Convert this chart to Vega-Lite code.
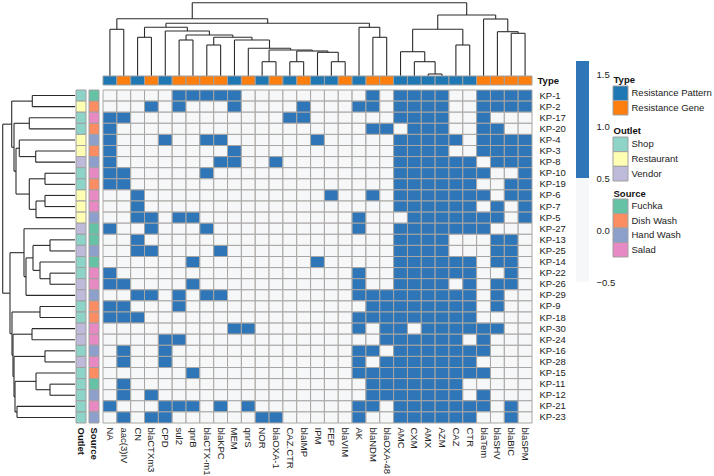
{
"$schema":"https://vega.github.io/schema/vega-lite/v6.json",
"width":714,"height":476,"padding":0,"autosize":{"type":"none"},
"config":{"view":{"stroke":null},"font":"Liberation Sans","axis":{"grid":false,"ticks":false,"domain":false,"labelFont":"Liberation Sans","labelFontSize":9.5,"labelColor":"#222","titleFont":"Liberation Sans"}},
"datasets":{
"genes":[{"g":"NA","t":"Resistance Pattern"},{"g":"aac(3)IV","t":"Resistance Gene"},{"g":"CN","t":"Resistance Pattern"},{"g":"blaCTXm3","t":"Resistance Gene"},{"g":"CPD","t":"Resistance Pattern"},{"g":"sul2","t":"Resistance Gene"},{"g":"qnrB","t":"Resistance Gene"},{"g":"blaCTX-m1","t":"Resistance Gene"},{"g":"blaKPC","t":"Resistance Gene"},{"g":"MEM","t":"Resistance Pattern"},{"g":"qnrS","t":"Resistance Gene"},{"g":"NOR","t":"Resistance Pattern"},{"g":"blaOXA-1","t":"Resistance Gene"},{"g":"CAZ.CTR","t":"Resistance Pattern"},{"g":"blaIMP","t":"Resistance Gene"},{"g":"IPM","t":"Resistance Pattern"},{"g":"FEP","t":"Resistance Pattern"},{"g":"blaVIM","t":"Resistance Gene"},{"g":"AK","t":"Resistance Pattern"},{"g":"blaNDM","t":"Resistance Gene"},{"g":"blaOXA-48","t":"Resistance Gene"},{"g":"AMC","t":"Resistance Pattern"},{"g":"CXM","t":"Resistance Pattern"},{"g":"AMX","t":"Resistance Pattern"},{"g":"AZM","t":"Resistance Pattern"},{"g":"CAZ","t":"Resistance Pattern"},{"g":"CTR","t":"Resistance Pattern"},{"g":"blaTem","t":"Resistance Gene"},{"g":"blaSHV","t":"Resistance Gene"},{"g":"blaBIC","t":"Resistance Gene"},{"g":"blaSPM","t":"Resistance Gene"}],
"iso":[{"i":"KP-1","o":"Shop","s":"Fuchka"},{"i":"KP-2","o":"Restaurant","s":"Dish Wash"},{"i":"KP-17","o":"Shop","s":"Salad"},{"i":"KP-20","o":"Shop","s":"Dish Wash"},{"i":"KP-4","o":"Restaurant","s":"Hand Wash"},{"i":"KP-3","o":"Restaurant","s":"Dish Wash"},{"i":"KP-8","o":"Vendor","s":"Hand Wash"},{"i":"KP-10","o":"Shop","s":"Salad"},{"i":"KP-19","o":"Shop","s":"Dish Wash"},{"i":"KP-6","o":"Restaurant","s":"Salad"},{"i":"KP-7","o":"Restaurant","s":"Salad"},{"i":"KP-5","o":"Restaurant","s":"Hand Wash"},{"i":"KP-27","o":"Vendor","s":"Fuchka"},{"i":"KP-13","o":"Shop","s":"Fuchka"},{"i":"KP-25","o":"Vendor","s":"Hand Wash"},{"i":"KP-14","o":"Shop","s":"Fuchka"},{"i":"KP-22","o":"Shop","s":"Salad"},{"i":"KP-26","o":"Vendor","s":"Salad"},{"i":"KP-29","o":"Vendor","s":"Hand Wash"},{"i":"KP-9","o":"Shop","s":"Dish Wash"},{"i":"KP-18","o":"Shop","s":"Dish Wash"},{"i":"KP-30","o":"Vendor","s":"Salad"},{"i":"KP-24","o":"Vendor","s":"Salad"},{"i":"KP-16","o":"Shop","s":"Hand Wash"},{"i":"KP-28","o":"Vendor","s":"Salad"},{"i":"KP-15","o":"Shop","s":"Dish Wash"},{"i":"KP-11","o":"Shop","s":"Fuchka"},{"i":"KP-12","o":"Shop","s":"Hand Wash"},{"i":"KP-21","o":"Shop","s":"Salad"},{"i":"KP-23","o":"Shop","s":"Hand Wash"}],
"cbar":[{"lo":-0.5,"hi":0.5,"v":0},{"lo":0.5,"hi":1.625,"v":1}],
"topd":[{"a":0.5,"b":1.5,"h":46.7,"ha":0,"hb":0},{"a":2.5,"b":3.5,"h":38.7,"ha":0,"hb":0},{"a":5.5,"b":6.5,"h":36,"ha":0,"hb":0},{"a":7.5,"b":8.5,"h":31,"ha":0,"hb":0},{"a":11.5,"b":12.5,"h":14.3,"ha":0,"hb":0},{"a":13.5,"b":14.5,"h":14.3,"ha":0,"hb":0},{"a":16.5,"b":17.5,"h":14.3,"ha":0,"hb":0},{"a":15.5,"b":17,"h":23.7,"ha":0,"hb":14.3},{"a":14,"b":16.25,"h":25,"ha":14.3,"hb":23.7},{"a":12,"b":15.125,"h":26,"ha":14.3,"hb":25},{"a":10.5,"b":13.5625,"h":27.7,"ha":0,"hb":26},{"a":9.5,"b":12.031,"h":36,"ha":0,"hb":27.7},{"a":8,"b":10.766,"h":38.7,"ha":31,"hb":36},{"a":6,"b":9.383,"h":41,"ha":36,"hb":38.7},{"a":4.5,"b":7.691,"h":45,"ha":0,"hb":41},{"a":3,"b":6.096,"h":48.7,"ha":38.7,"hb":45},{"a":19.5,"b":20.5,"h":38.7,"ha":0,"hb":0},{"a":18.5,"b":20,"h":48.7,"ha":0,"hb":38.7},{"a":4.548,"b":19.25,"h":52.7,"ha":48.7,"hb":48.7},{"a":1,"b":11.899,"h":57.3,"ha":46.7,"hb":52.7},{"a":23.5,"b":24.5,"h":2,"ha":0,"hb":0},{"a":22.5,"b":24,"h":14.3,"ha":0,"hb":2},{"a":21.5,"b":23.25,"h":24.3,"ha":0,"hb":14.3},{"a":25.5,"b":26.5,"h":31,"ha":0,"hb":0},{"a":22.375,"b":26,"h":46.7,"ha":24.3,"hb":31},{"a":29.5,"b":30.5,"h":42.7,"ha":0,"hb":0},{"a":28.5,"b":30,"h":44.3,"ha":0,"hb":42.7},{"a":27.5,"b":29.25,"h":57,"ha":0,"hb":44.3},{"a":24.188,"b":28.375,"h":61,"ha":46.7,"hb":57},{"a":6.45,"b":26.281,"h":73.3,"ha":57.3,"hb":61}],
"leftd":[{"a":0.5,"b":1.5,"h":42.7,"ha":0,"hb":0},{"a":2.5,"b":3.5,"h":45.7,"ha":0,"hb":0},{"a":5.5,"b":6.5,"h":39.3,"ha":0,"hb":0},{"a":4.5,"b":6,"h":55.7,"ha":0,"hb":39.3},{"a":7.5,"b":8.5,"h":30,"ha":0,"hb":0},{"a":9.5,"b":10.5,"h":30,"ha":0,"hb":0},{"a":10,"b":11.5,"h":39,"ha":30,"hb":0},{"a":8,"b":10.75,"h":45.7,"ha":30,"hb":39},{"a":5.25,"b":9.375,"h":59,"ha":55.7,"hb":45.7},{"a":3,"b":7.3125,"h":61,"ha":45.7,"hb":59},{"a":1,"b":5.156,"h":63.3,"ha":42.7,"hb":61},{"a":13.5,"b":14.5,"h":25,"ha":0,"hb":0},{"a":16.5,"b":17.5,"h":25,"ha":0,"hb":0},{"a":15.5,"b":17,"h":35,"ha":0,"hb":25},{"a":14,"b":16.25,"h":42,"ha":25,"hb":35},{"a":15.125,"b":18.5,"h":49,"ha":42,"hb":0},{"a":12.5,"b":16.8125,"h":51,"ha":0,"hb":49},{"a":19.5,"b":20.5,"h":35,"ha":0,"hb":0},{"a":21.5,"b":22.5,"h":43,"ha":0,"hb":0},{"a":23.5,"b":24.5,"h":30,"ha":0,"hb":0},{"a":26.5,"b":27.5,"h":25,"ha":0,"hb":0},{"a":25.5,"b":27,"h":39,"ha":0,"hb":25},{"a":28.5,"b":29.5,"h":58,"ha":0,"hb":0},{"a":26.25,"b":29,"h":60,"ha":39,"hb":58},{"a":24,"b":27.625,"h":61,"ha":30,"hb":60},{"a":22,"b":25.8125,"h":62,"ha":43,"hb":61},{"a":20,"b":23.906,"h":63,"ha":35,"hb":62},{"a":14.656,"b":21.953,"h":65,"ha":51,"hb":63},{"a":3.078,"b":18.305,"h":72.3,"ha":63.3,"hb":65}],
"cells":[
{"i":"KP-1","g":"NA","v":0},{"i":"KP-1","g":"aac(3)IV","v":0},{"i":"KP-1","g":"CN","v":0},{"i":"KP-1","g":"blaCTXm3","v":0},{"i":"KP-1","g":"CPD","v":0},{"i":"KP-1","g":"sul2","v":1},{"i":"KP-1","g":"qnrB","v":1},{"i":"KP-1","g":"blaCTX-m1","v":1},{"i":"KP-1","g":"blaKPC","v":1},{"i":"KP-1","g":"MEM","v":1},{"i":"KP-1","g":"qnrS","v":0},{"i":"KP-1","g":"NOR","v":0},{"i":"KP-1","g":"blaOXA-1","v":0},{"i":"KP-1","g":"CAZ.CTR","v":0},{"i":"KP-1","g":"blaIMP","v":0},{"i":"KP-1","g":"IPM","v":0},{"i":"KP-1","g":"FEP","v":0},{"i":"KP-1","g":"blaVIM","v":0},{"i":"KP-1","g":"AK","v":0},{"i":"KP-1","g":"blaNDM","v":1},{"i":"KP-1","g":"blaOXA-48","v":0},{"i":"KP-1","g":"AMC","v":1},{"i":"KP-1","g":"CXM","v":1},{"i":"KP-1","g":"AMX","v":1},{"i":"KP-1","g":"AZM","v":1},{"i":"KP-1","g":"CAZ","v":0},{"i":"KP-1","g":"CTR","v":0},{"i":"KP-1","g":"blaTem","v":1},{"i":"KP-1","g":"blaSHV","v":1},{"i":"KP-1","g":"blaBIC","v":1},{"i":"KP-1","g":"blaSPM","v":1},
{"i":"KP-2","g":"NA","v":0},{"i":"KP-2","g":"aac(3)IV","v":0},{"i":"KP-2","g":"CN","v":0},{"i":"KP-2","g":"blaCTXm3","v":1},{"i":"KP-2","g":"CPD","v":0},{"i":"KP-2","g":"sul2","v":1},{"i":"KP-2","g":"qnrB","v":0},{"i":"KP-2","g":"blaCTX-m1","v":0},{"i":"KP-2","g":"blaKPC","v":0},{"i":"KP-2","g":"MEM","v":1},{"i":"KP-2","g":"qnrS","v":0},{"i":"KP-2","g":"NOR","v":0},{"i":"KP-2","g":"blaOXA-1","v":0},{"i":"KP-2","g":"CAZ.CTR","v":0},{"i":"KP-2","g":"blaIMP","v":1},{"i":"KP-2","g":"IPM","v":0},{"i":"KP-2","g":"FEP","v":0},{"i":"KP-2","g":"blaVIM","v":0},{"i":"KP-2","g":"AK","v":1},{"i":"KP-2","g":"blaNDM","v":1},{"i":"KP-2","g":"blaOXA-48","v":0},{"i":"KP-2","g":"AMC","v":1},{"i":"KP-2","g":"CXM","v":1},{"i":"KP-2","g":"AMX","v":1},{"i":"KP-2","g":"AZM","v":1},{"i":"KP-2","g":"CAZ","v":0},{"i":"KP-2","g":"CTR","v":0},{"i":"KP-2","g":"blaTem","v":1},{"i":"KP-2","g":"blaSHV","v":1},{"i":"KP-2","g":"blaBIC","v":1},{"i":"KP-2","g":"blaSPM","v":1},
{"i":"KP-17","g":"NA","v":1},{"i":"KP-17","g":"aac(3)IV","v":1},{"i":"KP-17","g":"CN","v":0},{"i":"KP-17","g":"blaCTXm3","v":0},{"i":"KP-17","g":"CPD","v":0},{"i":"KP-17","g":"sul2","v":0},{"i":"KP-17","g":"qnrB","v":0},{"i":"KP-17","g":"blaCTX-m1","v":0},{"i":"KP-17","g":"blaKPC","v":0},{"i":"KP-17","g":"MEM","v":0},{"i":"KP-17","g":"qnrS","v":0},{"i":"KP-17","g":"NOR","v":0},{"i":"KP-17","g":"blaOXA-1","v":0},{"i":"KP-17","g":"CAZ.CTR","v":1},{"i":"KP-17","g":"blaIMP","v":1},{"i":"KP-17","g":"IPM","v":0},{"i":"KP-17","g":"FEP","v":0},{"i":"KP-17","g":"blaVIM","v":0},{"i":"KP-17","g":"AK","v":0},{"i":"KP-17","g":"blaNDM","v":0},{"i":"KP-17","g":"blaOXA-48","v":0},{"i":"KP-17","g":"AMC","v":1},{"i":"KP-17","g":"CXM","v":1},{"i":"KP-17","g":"AMX","v":1},{"i":"KP-17","g":"AZM","v":1},{"i":"KP-17","g":"CAZ","v":0},{"i":"KP-17","g":"CTR","v":0},{"i":"KP-17","g":"blaTem","v":1},{"i":"KP-17","g":"blaSHV","v":0},{"i":"KP-17","g":"blaBIC","v":0},{"i":"KP-17","g":"blaSPM","v":0},
{"i":"KP-20","g":"NA","v":1},{"i":"KP-20","g":"aac(3)IV","v":0},{"i":"KP-20","g":"CN","v":0},{"i":"KP-20","g":"blaCTXm3","v":0},{"i":"KP-20","g":"CPD","v":0},{"i":"KP-20","g":"sul2","v":0},{"i":"KP-20","g":"qnrB","v":0},{"i":"KP-20","g":"blaCTX-m1","v":0},{"i":"KP-20","g":"blaKPC","v":0},{"i":"KP-20","g":"MEM","v":0},{"i":"KP-20","g":"qnrS","v":0},{"i":"KP-20","g":"NOR","v":0},{"i":"KP-20","g":"blaOXA-1","v":0},{"i":"KP-20","g":"CAZ.CTR","v":0},{"i":"KP-20","g":"blaIMP","v":0},{"i":"KP-20","g":"IPM","v":0},{"i":"KP-20","g":"FEP","v":0},{"i":"KP-20","g":"blaVIM","v":0},{"i":"KP-20","g":"AK","v":0},{"i":"KP-20","g":"blaNDM","v":1},{"i":"KP-20","g":"blaOXA-48","v":1},{"i":"KP-20","g":"AMC","v":0},{"i":"KP-20","g":"CXM","v":1},{"i":"KP-20","g":"AMX","v":1},{"i":"KP-20","g":"AZM","v":1},{"i":"KP-20","g":"CAZ","v":0},{"i":"KP-20","g":"CTR","v":0},{"i":"KP-20","g":"blaTem","v":1},{"i":"KP-20","g":"blaSHV","v":1},{"i":"KP-20","g":"blaBIC","v":0},{"i":"KP-20","g":"blaSPM","v":0},
{"i":"KP-4","g":"NA","v":1},{"i":"KP-4","g":"aac(3)IV","v":0},{"i":"KP-4","g":"CN","v":0},{"i":"KP-4","g":"blaCTXm3","v":0},{"i":"KP-4","g":"CPD","v":1},{"i":"KP-4","g":"sul2","v":0},{"i":"KP-4","g":"qnrB","v":0},{"i":"KP-4","g":"blaCTX-m1","v":1},{"i":"KP-4","g":"blaKPC","v":1},{"i":"KP-4","g":"MEM","v":0},{"i":"KP-4","g":"qnrS","v":0},{"i":"KP-4","g":"NOR","v":0},{"i":"KP-4","g":"blaOXA-1","v":0},{"i":"KP-4","g":"CAZ.CTR","v":0},{"i":"KP-4","g":"blaIMP","v":0},{"i":"KP-4","g":"IPM","v":1},{"i":"KP-4","g":"FEP","v":0},{"i":"KP-4","g":"blaVIM","v":0},{"i":"KP-4","g":"AK","v":0},{"i":"KP-4","g":"blaNDM","v":0},{"i":"KP-4","g":"blaOXA-48","v":0},{"i":"KP-4","g":"AMC","v":1},{"i":"KP-4","g":"CXM","v":1},{"i":"KP-4","g":"AMX","v":1},{"i":"KP-4","g":"AZM","v":1},{"i":"KP-4","g":"CAZ","v":1},{"i":"KP-4","g":"CTR","v":0},{"i":"KP-4","g":"blaTem","v":1},{"i":"KP-4","g":"blaSHV","v":1},{"i":"KP-4","g":"blaBIC","v":1},{"i":"KP-4","g":"blaSPM","v":1},
{"i":"KP-3","g":"NA","v":1},{"i":"KP-3","g":"aac(3)IV","v":0},{"i":"KP-3","g":"CN","v":0},{"i":"KP-3","g":"blaCTXm3","v":0},{"i":"KP-3","g":"CPD","v":0},{"i":"KP-3","g":"sul2","v":0},{"i":"KP-3","g":"qnrB","v":0},{"i":"KP-3","g":"blaCTX-m1","v":0},{"i":"KP-3","g":"blaKPC","v":0},{"i":"KP-3","g":"MEM","v":1},{"i":"KP-3","g":"qnrS","v":0},{"i":"KP-3","g":"NOR","v":0},{"i":"KP-3","g":"blaOXA-1","v":0},{"i":"KP-3","g":"CAZ.CTR","v":0},{"i":"KP-3","g":"blaIMP","v":0},{"i":"KP-3","g":"IPM","v":0},{"i":"KP-3","g":"FEP","v":0},{"i":"KP-3","g":"blaVIM","v":0},{"i":"KP-3","g":"AK","v":0},{"i":"KP-3","g":"blaNDM","v":0},{"i":"KP-3","g":"blaOXA-48","v":0},{"i":"KP-3","g":"AMC","v":1},{"i":"KP-3","g":"CXM","v":1},{"i":"KP-3","g":"AMX","v":1},{"i":"KP-3","g":"AZM","v":1},{"i":"KP-3","g":"CAZ","v":0},{"i":"KP-3","g":"CTR","v":0},{"i":"KP-3","g":"blaTem","v":1},{"i":"KP-3","g":"blaSHV","v":1},{"i":"KP-3","g":"blaBIC","v":1},{"i":"KP-3","g":"blaSPM","v":1},
{"i":"KP-8","g":"NA","v":1},{"i":"KP-8","g":"aac(3)IV","v":0},{"i":"KP-8","g":"CN","v":0},{"i":"KP-8","g":"blaCTXm3","v":0},{"i":"KP-8","g":"CPD","v":0},{"i":"KP-8","g":"sul2","v":0},{"i":"KP-8","g":"qnrB","v":0},{"i":"KP-8","g":"blaCTX-m1","v":0},{"i":"KP-8","g":"blaKPC","v":1},{"i":"KP-8","g":"MEM","v":1},{"i":"KP-8","g":"qnrS","v":0},{"i":"KP-8","g":"NOR","v":0},{"i":"KP-8","g":"blaOXA-1","v":1},{"i":"KP-8","g":"CAZ.CTR","v":0},{"i":"KP-8","g":"blaIMP","v":0},{"i":"KP-8","g":"IPM","v":0},{"i":"KP-8","g":"FEP","v":0},{"i":"KP-8","g":"blaVIM","v":0},{"i":"KP-8","g":"AK","v":0},{"i":"KP-8","g":"blaNDM","v":0},{"i":"KP-8","g":"blaOXA-48","v":0},{"i":"KP-8","g":"AMC","v":1},{"i":"KP-8","g":"CXM","v":1},{"i":"KP-8","g":"AMX","v":1},{"i":"KP-8","g":"AZM","v":1},{"i":"KP-8","g":"CAZ","v":1},{"i":"KP-8","g":"CTR","v":1},{"i":"KP-8","g":"blaTem","v":0},{"i":"KP-8","g":"blaSHV","v":1},{"i":"KP-8","g":"blaBIC","v":1},{"i":"KP-8","g":"blaSPM","v":1},
{"i":"KP-10","g":"NA","v":1},{"i":"KP-10","g":"aac(3)IV","v":1},{"i":"KP-10","g":"CN","v":0},{"i":"KP-10","g":"blaCTXm3","v":0},{"i":"KP-10","g":"CPD","v":0},{"i":"KP-10","g":"sul2","v":0},{"i":"KP-10","g":"qnrB","v":0},{"i":"KP-10","g":"blaCTX-m1","v":1},{"i":"KP-10","g":"blaKPC","v":0},{"i":"KP-10","g":"MEM","v":0},{"i":"KP-10","g":"qnrS","v":0},{"i":"KP-10","g":"NOR","v":0},{"i":"KP-10","g":"blaOXA-1","v":0},{"i":"KP-10","g":"CAZ.CTR","v":0},{"i":"KP-10","g":"blaIMP","v":0},{"i":"KP-10","g":"IPM","v":0},{"i":"KP-10","g":"FEP","v":0},{"i":"KP-10","g":"blaVIM","v":0},{"i":"KP-10","g":"AK","v":0},{"i":"KP-10","g":"blaNDM","v":0},{"i":"KP-10","g":"blaOXA-48","v":0},{"i":"KP-10","g":"AMC","v":1},{"i":"KP-10","g":"CXM","v":1},{"i":"KP-10","g":"AMX","v":1},{"i":"KP-10","g":"AZM","v":1},{"i":"KP-10","g":"CAZ","v":1},{"i":"KP-10","g":"CTR","v":1},{"i":"KP-10","g":"blaTem","v":1},{"i":"KP-10","g":"blaSHV","v":0},{"i":"KP-10","g":"blaBIC","v":0},{"i":"KP-10","g":"blaSPM","v":1},
{"i":"KP-19","g":"NA","v":1},{"i":"KP-19","g":"aac(3)IV","v":1},{"i":"KP-19","g":"CN","v":0},{"i":"KP-19","g":"blaCTXm3","v":0},{"i":"KP-19","g":"CPD","v":0},{"i":"KP-19","g":"sul2","v":0},{"i":"KP-19","g":"qnrB","v":0},{"i":"KP-19","g":"blaCTX-m1","v":0},{"i":"KP-19","g":"blaKPC","v":0},{"i":"KP-19","g":"MEM","v":0},{"i":"KP-19","g":"qnrS","v":0},{"i":"KP-19","g":"NOR","v":0},{"i":"KP-19","g":"blaOXA-1","v":0},{"i":"KP-19","g":"CAZ.CTR","v":0},{"i":"KP-19","g":"blaIMP","v":0},{"i":"KP-19","g":"IPM","v":0},{"i":"KP-19","g":"FEP","v":0},{"i":"KP-19","g":"blaVIM","v":0},{"i":"KP-19","g":"AK","v":0},{"i":"KP-19","g":"blaNDM","v":0},{"i":"KP-19","g":"blaOXA-48","v":0},{"i":"KP-19","g":"AMC","v":1},{"i":"KP-19","g":"CXM","v":1},{"i":"KP-19","g":"AMX","v":1},{"i":"KP-19","g":"AZM","v":1},{"i":"KP-19","g":"CAZ","v":1},{"i":"KP-19","g":"CTR","v":1},{"i":"KP-19","g":"blaTem","v":0},{"i":"KP-19","g":"blaSHV","v":0},{"i":"KP-19","g":"blaBIC","v":1},{"i":"KP-19","g":"blaSPM","v":1},
{"i":"KP-6","g":"NA","v":0},{"i":"KP-6","g":"aac(3)IV","v":0},{"i":"KP-6","g":"CN","v":1},{"i":"KP-6","g":"blaCTXm3","v":0},{"i":"KP-6","g":"CPD","v":0},{"i":"KP-6","g":"sul2","v":0},{"i":"KP-6","g":"qnrB","v":0},{"i":"KP-6","g":"blaCTX-m1","v":0},{"i":"KP-6","g":"blaKPC","v":0},{"i":"KP-6","g":"MEM","v":0},{"i":"KP-6","g":"qnrS","v":0},{"i":"KP-6","g":"NOR","v":0},{"i":"KP-6","g":"blaOXA-1","v":0},{"i":"KP-6","g":"CAZ.CTR","v":0},{"i":"KP-6","g":"blaIMP","v":0},{"i":"KP-6","g":"IPM","v":0},{"i":"KP-6","g":"FEP","v":1},{"i":"KP-6","g":"blaVIM","v":0},{"i":"KP-6","g":"AK","v":0},{"i":"KP-6","g":"blaNDM","v":1},{"i":"KP-6","g":"blaOXA-48","v":0},{"i":"KP-6","g":"AMC","v":1},{"i":"KP-6","g":"CXM","v":1},{"i":"KP-6","g":"AMX","v":1},{"i":"KP-6","g":"AZM","v":1},{"i":"KP-6","g":"CAZ","v":1},{"i":"KP-6","g":"CTR","v":1},{"i":"KP-6","g":"blaTem","v":1},{"i":"KP-6","g":"blaSHV","v":0},{"i":"KP-6","g":"blaBIC","v":1},{"i":"KP-6","g":"blaSPM","v":1},
{"i":"KP-7","g":"NA","v":0},{"i":"KP-7","g":"aac(3)IV","v":0},{"i":"KP-7","g":"CN","v":1},{"i":"KP-7","g":"blaCTXm3","v":0},{"i":"KP-7","g":"CPD","v":0},{"i":"KP-7","g":"sul2","v":0},{"i":"KP-7","g":"qnrB","v":0},{"i":"KP-7","g":"blaCTX-m1","v":0},{"i":"KP-7","g":"blaKPC","v":0},{"i":"KP-7","g":"MEM","v":0},{"i":"KP-7","g":"qnrS","v":0},{"i":"KP-7","g":"NOR","v":0},{"i":"KP-7","g":"blaOXA-1","v":0},{"i":"KP-7","g":"CAZ.CTR","v":0},{"i":"KP-7","g":"blaIMP","v":0},{"i":"KP-7","g":"IPM","v":0},{"i":"KP-7","g":"FEP","v":0},{"i":"KP-7","g":"blaVIM","v":0},{"i":"KP-7","g":"AK","v":0},{"i":"KP-7","g":"blaNDM","v":0},{"i":"KP-7","g":"blaOXA-48","v":0},{"i":"KP-7","g":"AMC","v":1},{"i":"KP-7","g":"CXM","v":1},{"i":"KP-7","g":"AMX","v":1},{"i":"KP-7","g":"AZM","v":1},{"i":"KP-7","g":"CAZ","v":1},{"i":"KP-7","g":"CTR","v":1},{"i":"KP-7","g":"blaTem","v":0},{"i":"KP-7","g":"blaSHV","v":1},{"i":"KP-7","g":"blaBIC","v":0},{"i":"KP-7","g":"blaSPM","v":1},
{"i":"KP-5","g":"NA","v":0},{"i":"KP-5","g":"aac(3)IV","v":0},{"i":"KP-5","g":"CN","v":1},{"i":"KP-5","g":"blaCTXm3","v":1},{"i":"KP-5","g":"CPD","v":0},{"i":"KP-5","g":"sul2","v":1},{"i":"KP-5","g":"qnrB","v":1},{"i":"KP-5","g":"blaCTX-m1","v":0},{"i":"KP-5","g":"blaKPC","v":0},{"i":"KP-5","g":"MEM","v":0},{"i":"KP-5","g":"qnrS","v":0},{"i":"KP-5","g":"NOR","v":0},{"i":"KP-5","g":"blaOXA-1","v":0},{"i":"KP-5","g":"CAZ.CTR","v":0},{"i":"KP-5","g":"blaIMP","v":0},{"i":"KP-5","g":"IPM","v":0},{"i":"KP-5","g":"FEP","v":0},{"i":"KP-5","g":"blaVIM","v":0},{"i":"KP-5","g":"AK","v":1},{"i":"KP-5","g":"blaNDM","v":0},{"i":"KP-5","g":"blaOXA-48","v":0},{"i":"KP-5","g":"AMC","v":0},{"i":"KP-5","g":"CXM","v":1},{"i":"KP-5","g":"AMX","v":1},{"i":"KP-5","g":"AZM","v":1},{"i":"KP-5","g":"CAZ","v":1},{"i":"KP-5","g":"CTR","v":1},{"i":"KP-5","g":"blaTem","v":1},{"i":"KP-5","g":"blaSHV","v":1},{"i":"KP-5","g":"blaBIC","v":0},{"i":"KP-5","g":"blaSPM","v":1},
{"i":"KP-27","g":"NA","v":1},{"i":"KP-27","g":"aac(3)IV","v":0},{"i":"KP-27","g":"CN","v":0},{"i":"KP-27","g":"blaCTXm3","v":1},{"i":"KP-27","g":"CPD","v":0},{"i":"KP-27","g":"sul2","v":0},{"i":"KP-27","g":"qnrB","v":0},{"i":"KP-27","g":"blaCTX-m1","v":1},{"i":"KP-27","g":"blaKPC","v":0},{"i":"KP-27","g":"MEM","v":0},{"i":"KP-27","g":"qnrS","v":0},{"i":"KP-27","g":"NOR","v":0},{"i":"KP-27","g":"blaOXA-1","v":0},{"i":"KP-27","g":"CAZ.CTR","v":0},{"i":"KP-27","g":"blaIMP","v":0},{"i":"KP-27","g":"IPM","v":0},{"i":"KP-27","g":"FEP","v":0},{"i":"KP-27","g":"blaVIM","v":0},{"i":"KP-27","g":"AK","v":1},{"i":"KP-27","g":"blaNDM","v":0},{"i":"KP-27","g":"blaOXA-48","v":0},{"i":"KP-27","g":"AMC","v":1},{"i":"KP-27","g":"CXM","v":1},{"i":"KP-27","g":"AMX","v":1},{"i":"KP-27","g":"AZM","v":1},{"i":"KP-27","g":"CAZ","v":1},{"i":"KP-27","g":"CTR","v":1},{"i":"KP-27","g":"blaTem","v":1},{"i":"KP-27","g":"blaSHV","v":0},{"i":"KP-27","g":"blaBIC","v":0},{"i":"KP-27","g":"blaSPM","v":0},
{"i":"KP-13","g":"NA","v":0},{"i":"KP-13","g":"aac(3)IV","v":0},{"i":"KP-13","g":"CN","v":1},{"i":"KP-13","g":"blaCTXm3","v":0},{"i":"KP-13","g":"CPD","v":0},{"i":"KP-13","g":"sul2","v":0},{"i":"KP-13","g":"qnrB","v":0},{"i":"KP-13","g":"blaCTX-m1","v":0},{"i":"KP-13","g":"blaKPC","v":0},{"i":"KP-13","g":"MEM","v":0},{"i":"KP-13","g":"qnrS","v":0},{"i":"KP-13","g":"NOR","v":0},{"i":"KP-13","g":"blaOXA-1","v":0},{"i":"KP-13","g":"CAZ.CTR","v":0},{"i":"KP-13","g":"blaIMP","v":0},{"i":"KP-13","g":"IPM","v":0},{"i":"KP-13","g":"FEP","v":0},{"i":"KP-13","g":"blaVIM","v":0},{"i":"KP-13","g":"AK","v":0},{"i":"KP-13","g":"blaNDM","v":0},{"i":"KP-13","g":"blaOXA-48","v":0},{"i":"KP-13","g":"AMC","v":1},{"i":"KP-13","g":"CXM","v":1},{"i":"KP-13","g":"AMX","v":1},{"i":"KP-13","g":"AZM","v":1},{"i":"KP-13","g":"CAZ","v":0},{"i":"KP-13","g":"CTR","v":0},{"i":"KP-13","g":"blaTem","v":0},{"i":"KP-13","g":"blaSHV","v":1},{"i":"KP-13","g":"blaBIC","v":1},{"i":"KP-13","g":"blaSPM","v":0},
{"i":"KP-25","g":"NA","v":0},{"i":"KP-25","g":"aac(3)IV","v":0},{"i":"KP-25","g":"CN","v":1},{"i":"KP-25","g":"blaCTXm3","v":1},{"i":"KP-25","g":"CPD","v":0},{"i":"KP-25","g":"sul2","v":0},{"i":"KP-25","g":"qnrB","v":0},{"i":"KP-25","g":"blaCTX-m1","v":0},{"i":"KP-25","g":"blaKPC","v":1},{"i":"KP-25","g":"MEM","v":0},{"i":"KP-25","g":"qnrS","v":0},{"i":"KP-25","g":"NOR","v":0},{"i":"KP-25","g":"blaOXA-1","v":0},{"i":"KP-25","g":"CAZ.CTR","v":0},{"i":"KP-25","g":"blaIMP","v":0},{"i":"KP-25","g":"IPM","v":0},{"i":"KP-25","g":"FEP","v":0},{"i":"KP-25","g":"blaVIM","v":0},{"i":"KP-25","g":"AK","v":0},{"i":"KP-25","g":"blaNDM","v":0},{"i":"KP-25","g":"blaOXA-48","v":0},{"i":"KP-25","g":"AMC","v":1},{"i":"KP-25","g":"CXM","v":1},{"i":"KP-25","g":"AMX","v":1},{"i":"KP-25","g":"AZM","v":1},{"i":"KP-25","g":"CAZ","v":0},{"i":"KP-25","g":"CTR","v":0},{"i":"KP-25","g":"blaTem","v":0},{"i":"KP-25","g":"blaSHV","v":1},{"i":"KP-25","g":"blaBIC","v":1},{"i":"KP-25","g":"blaSPM","v":0},
{"i":"KP-14","g":"NA","v":0},{"i":"KP-14","g":"aac(3)IV","v":0},{"i":"KP-14","g":"CN","v":0},{"i":"KP-14","g":"blaCTXm3","v":0},{"i":"KP-14","g":"CPD","v":0},{"i":"KP-14","g":"sul2","v":0},{"i":"KP-14","g":"qnrB","v":1},{"i":"KP-14","g":"blaCTX-m1","v":0},{"i":"KP-14","g":"blaKPC","v":0},{"i":"KP-14","g":"MEM","v":0},{"i":"KP-14","g":"qnrS","v":0},{"i":"KP-14","g":"NOR","v":0},{"i":"KP-14","g":"blaOXA-1","v":0},{"i":"KP-14","g":"CAZ.CTR","v":0},{"i":"KP-14","g":"blaIMP","v":0},{"i":"KP-14","g":"IPM","v":1},{"i":"KP-14","g":"FEP","v":0},{"i":"KP-14","g":"blaVIM","v":0},{"i":"KP-14","g":"AK","v":0},{"i":"KP-14","g":"blaNDM","v":0},{"i":"KP-14","g":"blaOXA-48","v":0},{"i":"KP-14","g":"AMC","v":1},{"i":"KP-14","g":"CXM","v":1},{"i":"KP-14","g":"AMX","v":1},{"i":"KP-14","g":"AZM","v":1},{"i":"KP-14","g":"CAZ","v":1},{"i":"KP-14","g":"CTR","v":1},{"i":"KP-14","g":"blaTem","v":0},{"i":"KP-14","g":"blaSHV","v":1},{"i":"KP-14","g":"blaBIC","v":1},{"i":"KP-14","g":"blaSPM","v":0},
{"i":"KP-22","g":"NA","v":1},{"i":"KP-22","g":"aac(3)IV","v":0},{"i":"KP-22","g":"CN","v":0},{"i":"KP-22","g":"blaCTXm3","v":0},{"i":"KP-22","g":"CPD","v":0},{"i":"KP-22","g":"sul2","v":0},{"i":"KP-22","g":"qnrB","v":0},{"i":"KP-22","g":"blaCTX-m1","v":0},{"i":"KP-22","g":"blaKPC","v":0},{"i":"KP-22","g":"MEM","v":0},{"i":"KP-22","g":"qnrS","v":0},{"i":"KP-22","g":"NOR","v":0},{"i":"KP-22","g":"blaOXA-1","v":0},{"i":"KP-22","g":"CAZ.CTR","v":0},{"i":"KP-22","g":"blaIMP","v":0},{"i":"KP-22","g":"IPM","v":0},{"i":"KP-22","g":"FEP","v":0},{"i":"KP-22","g":"blaVIM","v":0},{"i":"KP-22","g":"AK","v":1},{"i":"KP-22","g":"blaNDM","v":0},{"i":"KP-22","g":"blaOXA-48","v":0},{"i":"KP-22","g":"AMC","v":1},{"i":"KP-22","g":"CXM","v":1},{"i":"KP-22","g":"AMX","v":1},{"i":"KP-22","g":"AZM","v":1},{"i":"KP-22","g":"CAZ","v":1},{"i":"KP-22","g":"CTR","v":1},{"i":"KP-22","g":"blaTem","v":0},{"i":"KP-22","g":"blaSHV","v":0},{"i":"KP-22","g":"blaBIC","v":1},{"i":"KP-22","g":"blaSPM","v":0},
{"i":"KP-26","g":"NA","v":1},{"i":"KP-26","g":"aac(3)IV","v":1},{"i":"KP-26","g":"CN","v":0},{"i":"KP-26","g":"blaCTXm3","v":0},{"i":"KP-26","g":"CPD","v":0},{"i":"KP-26","g":"sul2","v":0},{"i":"KP-26","g":"qnrB","v":1},{"i":"KP-26","g":"blaCTX-m1","v":0},{"i":"KP-26","g":"blaKPC","v":0},{"i":"KP-26","g":"MEM","v":0},{"i":"KP-26","g":"qnrS","v":0},{"i":"KP-26","g":"NOR","v":0},{"i":"KP-26","g":"blaOXA-1","v":0},{"i":"KP-26","g":"CAZ.CTR","v":0},{"i":"KP-26","g":"blaIMP","v":0},{"i":"KP-26","g":"IPM","v":0},{"i":"KP-26","g":"FEP","v":0},{"i":"KP-26","g":"blaVIM","v":0},{"i":"KP-26","g":"AK","v":1},{"i":"KP-26","g":"blaNDM","v":0},{"i":"KP-26","g":"blaOXA-48","v":0},{"i":"KP-26","g":"AMC","v":1},{"i":"KP-26","g":"CXM","v":1},{"i":"KP-26","g":"AMX","v":1},{"i":"KP-26","g":"AZM","v":1},{"i":"KP-26","g":"CAZ","v":0},{"i":"KP-26","g":"CTR","v":1},{"i":"KP-26","g":"blaTem","v":0},{"i":"KP-26","g":"blaSHV","v":1},{"i":"KP-26","g":"blaBIC","v":1},{"i":"KP-26","g":"blaSPM","v":0},
{"i":"KP-29","g":"NA","v":0},{"i":"KP-29","g":"aac(3)IV","v":0},{"i":"KP-29","g":"CN","v":1},{"i":"KP-29","g":"blaCTXm3","v":1},{"i":"KP-29","g":"CPD","v":0},{"i":"KP-29","g":"sul2","v":1},{"i":"KP-29","g":"qnrB","v":0},{"i":"KP-29","g":"blaCTX-m1","v":1},{"i":"KP-29","g":"blaKPC","v":1},{"i":"KP-29","g":"MEM","v":0},{"i":"KP-29","g":"qnrS","v":0},{"i":"KP-29","g":"NOR","v":0},{"i":"KP-29","g":"blaOXA-1","v":0},{"i":"KP-29","g":"CAZ.CTR","v":0},{"i":"KP-29","g":"blaIMP","v":0},{"i":"KP-29","g":"IPM","v":0},{"i":"KP-29","g":"FEP","v":0},{"i":"KP-29","g":"blaVIM","v":0},{"i":"KP-29","g":"AK","v":1},{"i":"KP-29","g":"blaNDM","v":1},{"i":"KP-29","g":"blaOXA-48","v":1},{"i":"KP-29","g":"AMC","v":1},{"i":"KP-29","g":"CXM","v":1},{"i":"KP-29","g":"AMX","v":1},{"i":"KP-29","g":"AZM","v":1},{"i":"KP-29","g":"CAZ","v":1},{"i":"KP-29","g":"CTR","v":1},{"i":"KP-29","g":"blaTem","v":0},{"i":"KP-29","g":"blaSHV","v":1},{"i":"KP-29","g":"blaBIC","v":0},{"i":"KP-29","g":"blaSPM","v":0},
{"i":"KP-9","g":"NA","v":1},{"i":"KP-9","g":"aac(3)IV","v":1},{"i":"KP-9","g":"CN","v":0},{"i":"KP-9","g":"blaCTXm3","v":0},{"i":"KP-9","g":"CPD","v":0},{"i":"KP-9","g":"sul2","v":1},{"i":"KP-9","g":"qnrB","v":0},{"i":"KP-9","g":"blaCTX-m1","v":0},{"i":"KP-9","g":"blaKPC","v":0},{"i":"KP-9","g":"MEM","v":0},{"i":"KP-9","g":"qnrS","v":0},{"i":"KP-9","g":"NOR","v":0},{"i":"KP-9","g":"blaOXA-1","v":0},{"i":"KP-9","g":"CAZ.CTR","v":0},{"i":"KP-9","g":"blaIMP","v":0},{"i":"KP-9","g":"IPM","v":0},{"i":"KP-9","g":"FEP","v":0},{"i":"KP-9","g":"blaVIM","v":0},{"i":"KP-9","g":"AK","v":0},{"i":"KP-9","g":"blaNDM","v":1},{"i":"KP-9","g":"blaOXA-48","v":1},{"i":"KP-9","g":"AMC","v":1},{"i":"KP-9","g":"CXM","v":1},{"i":"KP-9","g":"AMX","v":1},{"i":"KP-9","g":"AZM","v":1},{"i":"KP-9","g":"CAZ","v":1},{"i":"KP-9","g":"CTR","v":1},{"i":"KP-9","g":"blaTem","v":0},{"i":"KP-9","g":"blaSHV","v":1},{"i":"KP-9","g":"blaBIC","v":0},{"i":"KP-9","g":"blaSPM","v":0},
{"i":"KP-18","g":"NA","v":1},{"i":"KP-18","g":"aac(3)IV","v":1},{"i":"KP-18","g":"CN","v":1},{"i":"KP-18","g":"blaCTXm3","v":0},{"i":"KP-18","g":"CPD","v":0},{"i":"KP-18","g":"sul2","v":0},{"i":"KP-18","g":"qnrB","v":0},{"i":"KP-18","g":"blaCTX-m1","v":0},{"i":"KP-18","g":"blaKPC","v":0},{"i":"KP-18","g":"MEM","v":0},{"i":"KP-18","g":"qnrS","v":0},{"i":"KP-18","g":"NOR","v":0},{"i":"KP-18","g":"blaOXA-1","v":0},{"i":"KP-18","g":"CAZ.CTR","v":0},{"i":"KP-18","g":"blaIMP","v":0},{"i":"KP-18","g":"IPM","v":0},{"i":"KP-18","g":"FEP","v":0},{"i":"KP-18","g":"blaVIM","v":0},{"i":"KP-18","g":"AK","v":1},{"i":"KP-18","g":"blaNDM","v":1},{"i":"KP-18","g":"blaOXA-48","v":1},{"i":"KP-18","g":"AMC","v":1},{"i":"KP-18","g":"CXM","v":1},{"i":"KP-18","g":"AMX","v":1},{"i":"KP-18","g":"AZM","v":1},{"i":"KP-18","g":"CAZ","v":1},{"i":"KP-18","g":"CTR","v":1},{"i":"KP-18","g":"blaTem","v":0},{"i":"KP-18","g":"blaSHV","v":0},{"i":"KP-18","g":"blaBIC","v":0},{"i":"KP-18","g":"blaSPM","v":0},
{"i":"KP-30","g":"NA","v":0},{"i":"KP-30","g":"aac(3)IV","v":0},{"i":"KP-30","g":"CN","v":0},{"i":"KP-30","g":"blaCTXm3","v":0},{"i":"KP-30","g":"CPD","v":0},{"i":"KP-30","g":"sul2","v":0},{"i":"KP-30","g":"qnrB","v":0},{"i":"KP-30","g":"blaCTX-m1","v":0},{"i":"KP-30","g":"blaKPC","v":0},{"i":"KP-30","g":"MEM","v":1},{"i":"KP-30","g":"qnrS","v":1},{"i":"KP-30","g":"NOR","v":0},{"i":"KP-30","g":"blaOXA-1","v":0},{"i":"KP-30","g":"CAZ.CTR","v":0},{"i":"KP-30","g":"blaIMP","v":0},{"i":"KP-30","g":"IPM","v":0},{"i":"KP-30","g":"FEP","v":0},{"i":"KP-30","g":"blaVIM","v":0},{"i":"KP-30","g":"AK","v":1},{"i":"KP-30","g":"blaNDM","v":0},{"i":"KP-30","g":"blaOXA-48","v":1},{"i":"KP-30","g":"AMC","v":1},{"i":"KP-30","g":"CXM","v":0},{"i":"KP-30","g":"AMX","v":1},{"i":"KP-30","g":"AZM","v":1},{"i":"KP-30","g":"CAZ","v":1},{"i":"KP-30","g":"CTR","v":1},{"i":"KP-30","g":"blaTem","v":1},{"i":"KP-30","g":"blaSHV","v":1},{"i":"KP-30","g":"blaBIC","v":0},{"i":"KP-30","g":"blaSPM","v":0},
{"i":"KP-24","g":"NA","v":0},{"i":"KP-24","g":"aac(3)IV","v":0},{"i":"KP-24","g":"CN","v":0},{"i":"KP-24","g":"blaCTXm3","v":0},{"i":"KP-24","g":"CPD","v":1},{"i":"KP-24","g":"sul2","v":1},{"i":"KP-24","g":"qnrB","v":0},{"i":"KP-24","g":"blaCTX-m1","v":0},{"i":"KP-24","g":"blaKPC","v":0},{"i":"KP-24","g":"MEM","v":0},{"i":"KP-24","g":"qnrS","v":0},{"i":"KP-24","g":"NOR","v":0},{"i":"KP-24","g":"blaOXA-1","v":0},{"i":"KP-24","g":"CAZ.CTR","v":0},{"i":"KP-24","g":"blaIMP","v":0},{"i":"KP-24","g":"IPM","v":0},{"i":"KP-24","g":"FEP","v":0},{"i":"KP-24","g":"blaVIM","v":0},{"i":"KP-24","g":"AK","v":0},{"i":"KP-24","g":"blaNDM","v":0},{"i":"KP-24","g":"blaOXA-48","v":1},{"i":"KP-24","g":"AMC","v":1},{"i":"KP-24","g":"CXM","v":1},{"i":"KP-24","g":"AMX","v":1},{"i":"KP-24","g":"AZM","v":1},{"i":"KP-24","g":"CAZ","v":1},{"i":"KP-24","g":"CTR","v":0},{"i":"KP-24","g":"blaTem","v":1},{"i":"KP-24","g":"blaSHV","v":0},{"i":"KP-24","g":"blaBIC","v":0},{"i":"KP-24","g":"blaSPM","v":0},
{"i":"KP-16","g":"NA","v":0},{"i":"KP-16","g":"aac(3)IV","v":1},{"i":"KP-16","g":"CN","v":0},{"i":"KP-16","g":"blaCTXm3","v":0},{"i":"KP-16","g":"CPD","v":1},{"i":"KP-16","g":"sul2","v":0},{"i":"KP-16","g":"qnrB","v":0},{"i":"KP-16","g":"blaCTX-m1","v":0},{"i":"KP-16","g":"blaKPC","v":0},{"i":"KP-16","g":"MEM","v":0},{"i":"KP-16","g":"qnrS","v":0},{"i":"KP-16","g":"NOR","v":0},{"i":"KP-16","g":"blaOXA-1","v":0},{"i":"KP-16","g":"CAZ.CTR","v":0},{"i":"KP-16","g":"blaIMP","v":0},{"i":"KP-16","g":"IPM","v":0},{"i":"KP-16","g":"FEP","v":0},{"i":"KP-16","g":"blaVIM","v":0},{"i":"KP-16","g":"AK","v":1},{"i":"KP-16","g":"blaNDM","v":1},{"i":"KP-16","g":"blaOXA-48","v":0},{"i":"KP-16","g":"AMC","v":1},{"i":"KP-16","g":"CXM","v":1},{"i":"KP-16","g":"AMX","v":1},{"i":"KP-16","g":"AZM","v":1},{"i":"KP-16","g":"CAZ","v":1},{"i":"KP-16","g":"CTR","v":1},{"i":"KP-16","g":"blaTem","v":1},{"i":"KP-16","g":"blaSHV","v":0},{"i":"KP-16","g":"blaBIC","v":0},{"i":"KP-16","g":"blaSPM","v":0},
{"i":"KP-28","g":"NA","v":0},{"i":"KP-28","g":"aac(3)IV","v":1},{"i":"KP-28","g":"CN","v":0},{"i":"KP-28","g":"blaCTXm3","v":0},{"i":"KP-28","g":"CPD","v":1},{"i":"KP-28","g":"sul2","v":0},{"i":"KP-28","g":"qnrB","v":0},{"i":"KP-28","g":"blaCTX-m1","v":0},{"i":"KP-28","g":"blaKPC","v":0},{"i":"KP-28","g":"MEM","v":0},{"i":"KP-28","g":"qnrS","v":0},{"i":"KP-28","g":"NOR","v":0},{"i":"KP-28","g":"blaOXA-1","v":0},{"i":"KP-28","g":"CAZ.CTR","v":0},{"i":"KP-28","g":"blaIMP","v":0},{"i":"KP-28","g":"IPM","v":0},{"i":"KP-28","g":"FEP","v":0},{"i":"KP-28","g":"blaVIM","v":0},{"i":"KP-28","g":"AK","v":1},{"i":"KP-28","g":"blaNDM","v":0},{"i":"KP-28","g":"blaOXA-48","v":1},{"i":"KP-28","g":"AMC","v":1},{"i":"KP-28","g":"CXM","v":1},{"i":"KP-28","g":"AMX","v":1},{"i":"KP-28","g":"AZM","v":1},{"i":"KP-28","g":"CAZ","v":1},{"i":"KP-28","g":"CTR","v":1},{"i":"KP-28","g":"blaTem","v":0},{"i":"KP-28","g":"blaSHV","v":0},{"i":"KP-28","g":"blaBIC","v":0},{"i":"KP-28","g":"blaSPM","v":0},
{"i":"KP-15","g":"NA","v":0},{"i":"KP-15","g":"aac(3)IV","v":0},{"i":"KP-15","g":"CN","v":0},{"i":"KP-15","g":"blaCTXm3","v":0},{"i":"KP-15","g":"CPD","v":0},{"i":"KP-15","g":"sul2","v":0},{"i":"KP-15","g":"qnrB","v":1},{"i":"KP-15","g":"blaCTX-m1","v":0},{"i":"KP-15","g":"blaKPC","v":0},{"i":"KP-15","g":"MEM","v":0},{"i":"KP-15","g":"qnrS","v":0},{"i":"KP-15","g":"NOR","v":0},{"i":"KP-15","g":"blaOXA-1","v":0},{"i":"KP-15","g":"CAZ.CTR","v":0},{"i":"KP-15","g":"blaIMP","v":0},{"i":"KP-15","g":"IPM","v":0},{"i":"KP-15","g":"FEP","v":0},{"i":"KP-15","g":"blaVIM","v":0},{"i":"KP-15","g":"AK","v":1},{"i":"KP-15","g":"blaNDM","v":1},{"i":"KP-15","g":"blaOXA-48","v":1},{"i":"KP-15","g":"AMC","v":1},{"i":"KP-15","g":"CXM","v":1},{"i":"KP-15","g":"AMX","v":1},{"i":"KP-15","g":"AZM","v":1},{"i":"KP-15","g":"CAZ","v":1},{"i":"KP-15","g":"CTR","v":1},{"i":"KP-15","g":"blaTem","v":1},{"i":"KP-15","g":"blaSHV","v":0},{"i":"KP-15","g":"blaBIC","v":0},{"i":"KP-15","g":"blaSPM","v":0},
{"i":"KP-11","g":"NA","v":0},{"i":"KP-11","g":"aac(3)IV","v":1},{"i":"KP-11","g":"CN","v":0},{"i":"KP-11","g":"blaCTXm3","v":0},{"i":"KP-11","g":"CPD","v":0},{"i":"KP-11","g":"sul2","v":0},{"i":"KP-11","g":"qnrB","v":0},{"i":"KP-11","g":"blaCTX-m1","v":0},{"i":"KP-11","g":"blaKPC","v":0},{"i":"KP-11","g":"MEM","v":0},{"i":"KP-11","g":"qnrS","v":0},{"i":"KP-11","g":"NOR","v":0},{"i":"KP-11","g":"blaOXA-1","v":0},{"i":"KP-11","g":"CAZ.CTR","v":0},{"i":"KP-11","g":"blaIMP","v":0},{"i":"KP-11","g":"IPM","v":0},{"i":"KP-11","g":"FEP","v":0},{"i":"KP-11","g":"blaVIM","v":0},{"i":"KP-11","g":"AK","v":0},{"i":"KP-11","g":"blaNDM","v":1},{"i":"KP-11","g":"blaOXA-48","v":1},{"i":"KP-11","g":"AMC","v":1},{"i":"KP-11","g":"CXM","v":1},{"i":"KP-11","g":"AMX","v":1},{"i":"KP-11","g":"AZM","v":1},{"i":"KP-11","g":"CAZ","v":1},{"i":"KP-11","g":"CTR","v":0},{"i":"KP-11","g":"blaTem","v":0},{"i":"KP-11","g":"blaSHV","v":0},{"i":"KP-11","g":"blaBIC","v":0},{"i":"KP-11","g":"blaSPM","v":0},
{"i":"KP-12","g":"NA","v":0},{"i":"KP-12","g":"aac(3)IV","v":1},{"i":"KP-12","g":"CN","v":0},{"i":"KP-12","g":"blaCTXm3","v":1},{"i":"KP-12","g":"CPD","v":0},{"i":"KP-12","g":"sul2","v":0},{"i":"KP-12","g":"qnrB","v":0},{"i":"KP-12","g":"blaCTX-m1","v":0},{"i":"KP-12","g":"blaKPC","v":0},{"i":"KP-12","g":"MEM","v":0},{"i":"KP-12","g":"qnrS","v":0},{"i":"KP-12","g":"NOR","v":0},{"i":"KP-12","g":"blaOXA-1","v":0},{"i":"KP-12","g":"CAZ.CTR","v":0},{"i":"KP-12","g":"blaIMP","v":0},{"i":"KP-12","g":"IPM","v":0},{"i":"KP-12","g":"FEP","v":0},{"i":"KP-12","g":"blaVIM","v":0},{"i":"KP-12","g":"AK","v":0},{"i":"KP-12","g":"blaNDM","v":1},{"i":"KP-12","g":"blaOXA-48","v":1},{"i":"KP-12","g":"AMC","v":1},{"i":"KP-12","g":"CXM","v":1},{"i":"KP-12","g":"AMX","v":1},{"i":"KP-12","g":"AZM","v":1},{"i":"KP-12","g":"CAZ","v":1},{"i":"KP-12","g":"CTR","v":0},{"i":"KP-12","g":"blaTem","v":1},{"i":"KP-12","g":"blaSHV","v":0},{"i":"KP-12","g":"blaBIC","v":0},{"i":"KP-12","g":"blaSPM","v":0},
{"i":"KP-21","g":"NA","v":1},{"i":"KP-21","g":"aac(3)IV","v":0},{"i":"KP-21","g":"CN","v":0},{"i":"KP-21","g":"blaCTXm3","v":0},{"i":"KP-21","g":"CPD","v":1},{"i":"KP-21","g":"sul2","v":1},{"i":"KP-21","g":"qnrB","v":1},{"i":"KP-21","g":"blaCTX-m1","v":0},{"i":"KP-21","g":"blaKPC","v":1},{"i":"KP-21","g":"MEM","v":0},{"i":"KP-21","g":"qnrS","v":1},{"i":"KP-21","g":"NOR","v":0},{"i":"KP-21","g":"blaOXA-1","v":0},{"i":"KP-21","g":"CAZ.CTR","v":0},{"i":"KP-21","g":"blaIMP","v":0},{"i":"KP-21","g":"IPM","v":0},{"i":"KP-21","g":"FEP","v":0},{"i":"KP-21","g":"blaVIM","v":0},{"i":"KP-21","g":"AK","v":1},{"i":"KP-21","g":"blaNDM","v":1},{"i":"KP-21","g":"blaOXA-48","v":0},{"i":"KP-21","g":"AMC","v":1},{"i":"KP-21","g":"CXM","v":1},{"i":"KP-21","g":"AMX","v":1},{"i":"KP-21","g":"AZM","v":1},{"i":"KP-21","g":"CAZ","v":1},{"i":"KP-21","g":"CTR","v":1},{"i":"KP-21","g":"blaTem","v":1},{"i":"KP-21","g":"blaSHV","v":0},{"i":"KP-21","g":"blaBIC","v":1},{"i":"KP-21","g":"blaSPM","v":0},
{"i":"KP-23","g":"NA","v":0},{"i":"KP-23","g":"aac(3)IV","v":1},{"i":"KP-23","g":"CN","v":0},{"i":"KP-23","g":"blaCTXm3","v":1},{"i":"KP-23","g":"CPD","v":1},{"i":"KP-23","g":"sul2","v":0},{"i":"KP-23","g":"qnrB","v":0},{"i":"KP-23","g":"blaCTX-m1","v":0},{"i":"KP-23","g":"blaKPC","v":0},{"i":"KP-23","g":"MEM","v":0},{"i":"KP-23","g":"qnrS","v":0},{"i":"KP-23","g":"NOR","v":1},{"i":"KP-23","g":"blaOXA-1","v":1},{"i":"KP-23","g":"CAZ.CTR","v":0},{"i":"KP-23","g":"blaIMP","v":0},{"i":"KP-23","g":"IPM","v":0},{"i":"KP-23","g":"FEP","v":0},{"i":"KP-23","g":"blaVIM","v":0},{"i":"KP-23","g":"AK","v":1},{"i":"KP-23","g":"blaNDM","v":0},{"i":"KP-23","g":"blaOXA-48","v":0},{"i":"KP-23","g":"AMC","v":1},{"i":"KP-23","g":"CXM","v":1},{"i":"KP-23","g":"AMX","v":1},{"i":"KP-23","g":"AZM","v":1},{"i":"KP-23","g":"CAZ","v":1},{"i":"KP-23","g":"CTR","v":1},{"i":"KP-23","g":"blaTem","v":0},{"i":"KP-23","g":"blaSHV","v":0},{"i":"KP-23","g":"blaBIC","v":1},{"i":"KP-23","g":"blaSPM","v":0}
]},
"layer":[
{"data":{"name":"topd"},"mark":{"type":"rule","color":"#2b2b2b","strokeWidth":1.1},"encoding":{"x":{"field":"a","type":"quantitative","scale":{"domain":[0,31],"range":[103,532],"nice":false,"zero":false},"axis":null},"x2":{"field":"b"},"y":{"field":"h","type":"quantitative","scale":{"domain":[0,76],"range":[76,0],"nice":false,"zero":false},"axis":null}}},
{"data":{"name":"topd"},"mark":{"type":"rule","color":"#2b2b2b","strokeWidth":1.1},"encoding":{"x":{"field":"a","type":"quantitative","scale":{"domain":[0,31],"range":[103,532],"nice":false,"zero":false},"axis":null},"y":{"field":"ha","type":"quantitative","scale":{"domain":[0,76],"range":[76,0],"nice":false,"zero":false},"axis":null},"y2":{"field":"h"}}},
{"data":{"name":"topd"},"mark":{"type":"rule","color":"#2b2b2b","strokeWidth":1.1},"encoding":{"x":{"field":"b","type":"quantitative","scale":{"domain":[0,31],"range":[103,532],"nice":false,"zero":false},"axis":null},"y":{"field":"hb","type":"quantitative","scale":{"domain":[0,76],"range":[76,0],"nice":false,"zero":false},"axis":null},"y2":{"field":"h"}}},
{"data":{"name":"leftd"},"mark":{"type":"rule","color":"#2b2b2b","strokeWidth":1.1},"encoding":{"y":{"field":"a","type":"quantitative","scale":{"domain":[0,30],"range":[90,423],"nice":false,"zero":false},"axis":null},"y2":{"field":"b"},"x":{"field":"h","type":"quantitative","scale":{"domain":[0,75],"range":[75,0],"nice":false,"zero":false},"axis":null}}},
{"data":{"name":"leftd"},"mark":{"type":"rule","color":"#2b2b2b","strokeWidth":1.1},"encoding":{"y":{"field":"a","type":"quantitative","scale":{"domain":[0,30],"range":[90,423],"nice":false,"zero":false},"axis":null},"x":{"field":"ha","type":"quantitative","scale":{"domain":[0,75],"range":[75,0],"nice":false,"zero":false},"axis":null},"x2":{"field":"h"}}},
{"data":{"name":"leftd"},"mark":{"type":"rule","color":"#2b2b2b","strokeWidth":1.1},"encoding":{"y":{"field":"b","type":"quantitative","scale":{"domain":[0,30],"range":[90,423],"nice":false,"zero":false},"axis":null},"x":{"field":"hb","type":"quantitative","scale":{"domain":[0,75],"range":[75,0],"nice":false,"zero":false},"axis":null},"x2":{"field":"h"}}},
{"data":{"name":"iso"},"mark":{"type":"rect","stroke":"#A0A0A0","strokeWidth":1},"encoding":{"x":{"datum":"Outlet","type":"nominal","scale":{"domain":["Outlet","Source"],"range":[76,99],"paddingInner":0.23,"paddingOuter":0},"axis":{"orient":"bottom","offset":-53,"title":null,"labelAngle":90,"labelAlign":"left","labelBaseline":"middle","labelPadding":4,"labelFontWeight":"bold","labelColor":"#111"}},"y":{"field":"i","type":"nominal","sort":null,"scale":{"domain":["KP-1","KP-2","KP-17","KP-20","KP-4","KP-3","KP-8","KP-10","KP-19","KP-6","KP-7","KP-5","KP-27","KP-13","KP-25","KP-14","KP-22","KP-26","KP-29","KP-9","KP-18","KP-30","KP-24","KP-16","KP-28","KP-15","KP-11","KP-12","KP-21","KP-23"],"range":[90,423],"paddingInner":0,"paddingOuter":0},"axis":null},"color":{"field":"o","type":"nominal","scale":{"domain":["Shop","Restaurant","Vendor"],"range":["#8DD3C7","#FFFFB3","#BEBADA"]},"legend":null}}},
{"data":{"name":"iso"},"mark":{"type":"rect","stroke":"#A0A0A0","strokeWidth":1},"encoding":{"x":{"datum":"Source","type":"nominal","scale":{"domain":["Outlet","Source"],"range":[76,99],"paddingInner":0.23,"paddingOuter":0},"axis":null},"y":{"field":"i","type":"nominal","sort":null,"scale":{"domain":["KP-1","KP-2","KP-17","KP-20","KP-4","KP-3","KP-8","KP-10","KP-19","KP-6","KP-7","KP-5","KP-27","KP-13","KP-25","KP-14","KP-22","KP-26","KP-29","KP-9","KP-18","KP-30","KP-24","KP-16","KP-28","KP-15","KP-11","KP-12","KP-21","KP-23"],"range":[90,423],"paddingInner":0,"paddingOuter":0},"axis":null},"color":{"field":"s","type":"nominal","scale":{"domain":["Fuchka","Dish Wash","Hand Wash","Salad"],"range":["#66C2A5","#FC8D62","#8DA0CB","#E78AC3"]},"legend":null}}},
{"data":{"name":"genes"},"mark":{"type":"rect","stroke":"#A0A0A0","strokeWidth":1},"encoding":{"x":{"field":"g","type":"nominal","sort":null,"scale":{"domain":["NA","aac(3)IV","CN","blaCTXm3","CPD","sul2","qnrB","blaCTX-m1","blaKPC","MEM","qnrS","NOR","blaOXA-1","CAZ.CTR","blaIMP","IPM","FEP","blaVIM","AK","blaNDM","blaOXA-48","AMC","CXM","AMX","AZM","CAZ","CTR","blaTem","blaSHV","blaBIC","blaSPM"],"range":[103,532],"paddingInner":0,"paddingOuter":0},"axis":null},"y":{"datum":"Type","type":"nominal","scale":{"domain":["Type"],"range":[76,85],"paddingInner":0,"paddingOuter":0},"axis":{"orient":"right","offset":-182,"title":null,"labelPadding":5,"labelFontWeight":"bold","labelColor":"#111"}},"color":{"field":"t","type":"nominal","scale":{"domain":["Resistance Pattern","Resistance Gene"],"range":["#1F77B4","#FF7F0E"]},"legend":null}}},
{"data":{"name":"cells"},"mark":{"type":"rect","stroke":"#A8A6A3","strokeWidth":1},"encoding":{"x":{"field":"g","type":"nominal","sort":null,"scale":{"domain":["NA","aac(3)IV","CN","blaCTXm3","CPD","sul2","qnrB","blaCTX-m1","blaKPC","MEM","qnrS","NOR","blaOXA-1","CAZ.CTR","blaIMP","IPM","FEP","blaVIM","AK","blaNDM","blaOXA-48","AMC","CXM","AMX","AZM","CAZ","CTR","blaTem","blaSHV","blaBIC","blaSPM"],"range":[103,532],"paddingInner":0,"paddingOuter":0},"axis":{"orient":"bottom","offset":-53,"title":null,"labelAngle":90,"labelAlign":"left","labelBaseline":"middle","labelPadding":4,"labelOverlap":false}},"y":{"field":"i","type":"nominal","sort":null,"scale":{"domain":["KP-1","KP-2","KP-17","KP-20","KP-4","KP-3","KP-8","KP-10","KP-19","KP-6","KP-7","KP-5","KP-27","KP-13","KP-25","KP-14","KP-22","KP-26","KP-29","KP-9","KP-18","KP-30","KP-24","KP-16","KP-28","KP-15","KP-11","KP-12","KP-21","KP-23"],"range":[90,423],"paddingInner":0,"paddingOuter":0},"axis":{"orient":"right","offset":-182,"title":null,"labelPadding":7,"labelOverlap":false}},"color":{"field":"v","type":"nominal","scale":{"domain":[0,1],"range":["#F6F7F9","#2E76B7"]},"legend":null}}},
{"data":{"name":"cbar"},"mark":{"type":"rect"},"encoding":{"x":{"datum":"cb","type":"nominal","scale":{"domain":["cb"],"range":[576,589],"paddingInner":0,"paddingOuter":0},"axis":null},"y":{"field":"lo","type":"quantitative","scale":{"domain":[-0.5,1.625],"range":[282,61],"nice":false,"zero":false},"axis":{"orient":"right","offset":-125,"title":null,"values":[-0.5,0,0.5,1,1.5],"labelPadding":7,"labelOverlap":false}},"y2":{"field":"hi"},"color":{"field":"v","type":"nominal","scale":{"domain":[0,1],"range":["#F6F7F9","#2E76B7"]},"legend":null}}},
{"data":{"values":[{"k":"Resistance Pattern"},{"k":"Resistance Gene"}]},"mark":{"type":"rect","stroke":"#A0A0A0","strokeWidth":1},"encoding":{"x":{"datum":"sw","type":"nominal","scale":{"domain":["sw"],"range":[613,628],"paddingInner":0,"paddingOuter":0},"axis":null},"y":{"field":"k","type":"nominal","sort":null,"scale":{"domain":["Resistance Pattern","Resistance Gene"],"range":[86,115],"paddingInner":0,"paddingOuter":0},"axis":{"orient":"right","offset":-86,"labelPadding":3,"title":"Type","titleAngle":0,"titleAlign":"left","titleBaseline":"middle","titleX":-15,"titleY":79,"titleFontSize":9.5,"titleFontWeight":"bold","titleColor":"#111"}},"color":{"field":"k","type":"nominal","scale":{"domain":["Resistance Pattern","Resistance Gene"],"range":["#1F77B4","#FF7F0E"]},"legend":null}}},
{"data":{"values":[{"k":"Shop"},{"k":"Restaurant"},{"k":"Vendor"}]},"mark":{"type":"rect","stroke":"#A0A0A0","strokeWidth":1},"encoding":{"x":{"datum":"sw","type":"nominal","scale":{"domain":["sw"],"range":[613,628],"paddingInner":0,"paddingOuter":0},"axis":null},"y":{"field":"k","type":"nominal","sort":null,"scale":{"domain":["Shop","Restaurant","Vendor"],"range":[137,181],"paddingInner":0,"paddingOuter":0},"axis":{"orient":"right","offset":-86,"labelPadding":3,"title":"Outlet","titleAngle":0,"titleAlign":"left","titleBaseline":"middle","titleX":-15,"titleY":130,"titleFontSize":9.5,"titleFontWeight":"bold","titleColor":"#111"}},"color":{"field":"k","type":"nominal","scale":{"domain":["Shop","Restaurant","Vendor"],"range":["#8DD3C7","#FFFFB3","#BEBADA"]},"legend":null}}},
{"data":{"values":[{"k":"Fuchka"},{"k":"Dish Wash"},{"k":"Hand Wash"},{"k":"Salad"}]},"mark":{"type":"rect","stroke":"#A0A0A0","strokeWidth":1},"encoding":{"x":{"datum":"sw","type":"nominal","scale":{"domain":["sw"],"range":[613,628],"paddingInner":0,"paddingOuter":0},"axis":null},"y":{"field":"k","type":"nominal","sort":null,"scale":{"domain":["Fuchka","Dish Wash","Hand Wash","Salad"],"range":[199,257],"paddingInner":0,"paddingOuter":0},"axis":{"orient":"right","offset":-86,"labelPadding":3,"title":"Source","titleAngle":0,"titleAlign":"left","titleBaseline":"middle","titleX":-15,"titleY":193,"titleFontSize":9.5,"titleFontWeight":"bold","titleColor":"#111"}},"color":{"field":"k","type":"nominal","scale":{"domain":["Fuchka","Dish Wash","Hand Wash","Salad"],"range":["#66C2A5","#FC8D62","#8DA0CB","#E78AC3"]},"legend":null}}}
],
"resolve":{"scale":{"x":"independent","y":"independent","color":"independent"},"axis":{"x":"independent","y":"independent"}}
}
